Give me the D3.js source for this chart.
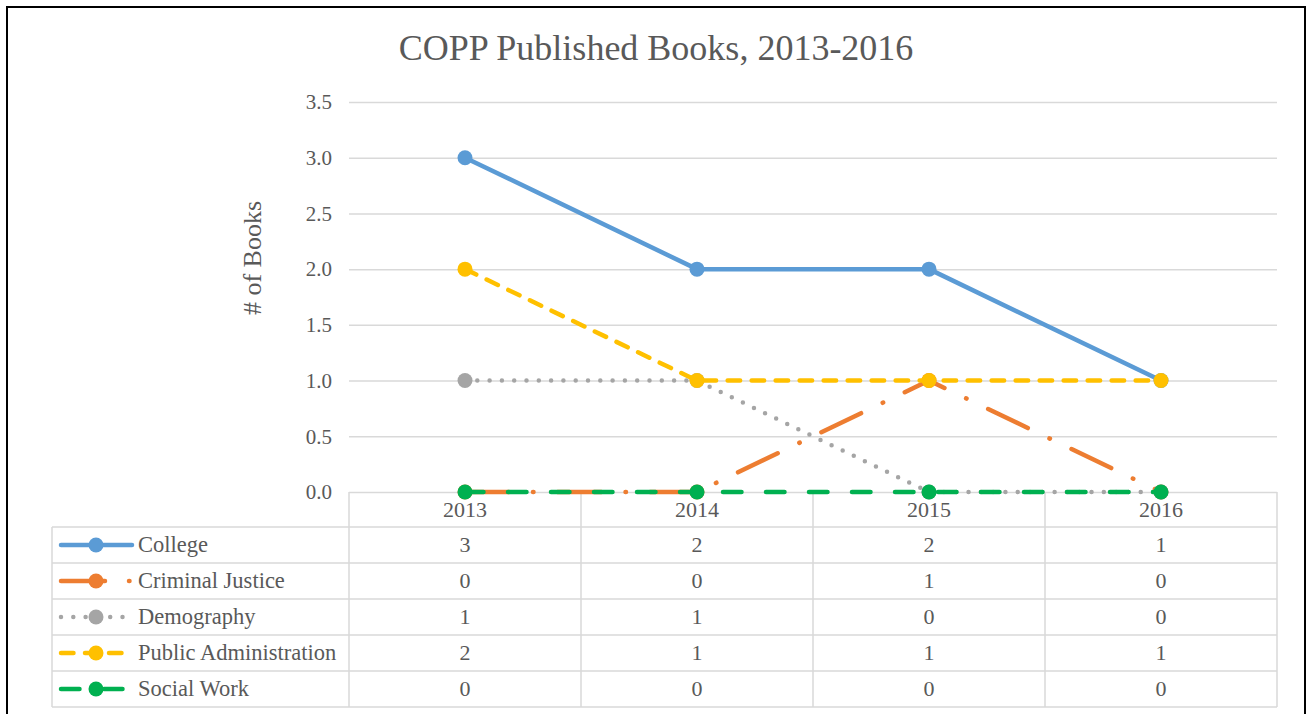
<!DOCTYPE html>
<html>
<head>
<meta charset="utf-8">
<script src="https://cdn.jsdelivr.net/npm/d3@7"></script>
<style>
  body { margin: 0; background: #fff; }
  svg text { font-family: "Liberation Serif", "DejaVu Serif", serif; fill: #595959; }
</style>
</head>
<body>
<svg id="chart" width="1307" height="714"></svg>
<script>
const years = ["2013", "2014", "2015", "2016"];
const seriesNames = ["College", "Criminal Justice", "Demography", "Public Administration", "Social Work"];
const college = [3, 2, 2, 1];
const criminalJustice = [0, 0, 1, 0];
const demography = [1, 1, 0, 0];
const publicAdmin = [2, 1, 1, 1];
const socialWork = [0, 0, 0, 0];
const yTicks = [0, 0.5, 1, 1.5, 2, 2.5, 3, 3.5];

const seriesValues = [college, criminalJustice, demography, publicAdmin, socialWork];
const colors = ["#5B9BD5", "#ED7D31", "#A5A5A5", "#FFC000", "#00B050"];
const dashes = ["none", "44 24 0.5 24", "0 12.3", "12.5 11.5", "18.5 24.5"];

const series = seriesNames.map((name, i) => ({ name, values: seriesValues[i], color: colors[i], dash: dashes[i] }));

const svg = d3.select("#chart");
const plotLeft = 349, plotRight = 1277, plotTop = 102, plotBottom = 492;
const rowH = 36, tableTop = 527, keyLeft = 52;
const serif = "'Liberation Serif', 'DejaVu Serif', serif";

// outer frame
svg.append("rect")
  .attr("x", 7).attr("y", 7).attr("width", 1298).attr("height", 720)
  .attr("fill", "none").attr("stroke", "#000").attr("stroke-width", 2);

const x = d3.scaleBand().domain(years).range([plotLeft, plotRight]);
const y = d3.scaleLinear().domain([0, 3.5]).range([plotBottom, plotTop]);

svg.append("text")
  .attr("x", 656).attr("y", 60)
  .attr("text-anchor", "middle")
  .style("font-family", serif)
  .style("font-size", "36px")
  .text("COPP Published Books, 2013-2016");

const yAxis = svg.append("g")
  .attr("transform", `translate(${plotLeft},0)`)
  .call(d3.axisLeft(y).tickValues(yTicks).tickFormat(d3.format(".1f")).tickSize(-(plotRight - plotLeft)).tickPadding(17));
yAxis.select(".domain").remove();
yAxis.attr("font-family", null);
yAxis.selectAll("line").attr("stroke", "#D9D9D9").attr("stroke-width", 1.5);
yAxis.selectAll("text").style("font-family", serif).style("font-size", "21px").attr("fill", "#595959");

svg.append("text")
  .attr("transform", "translate(261,258) rotate(-90)")
  .attr("text-anchor", "middle")
  .style("font-family", serif)
  .style("font-size", "26px")
  .text("# of Books");

// data table grid
const grid = svg.append("g").attr("stroke", "#D9D9D9").attr("stroke-width", 1.5);
const tableBottom = tableTop + rowH * series.length;
d3.range(series.length + 1).forEach((i) => {
  grid.append("line")
    .attr("x1", keyLeft).attr("x2", plotRight)
    .attr("y1", tableTop + i * rowH).attr("y2", tableTop + i * rowH);
});
grid.append("line").attr("x1", keyLeft).attr("x2", keyLeft).attr("y1", tableTop).attr("y2", tableBottom);
years.forEach((yr) => {
  grid.append("line")
    .attr("x1", x(yr)).attr("x2", x(yr))
    .attr("y1", plotBottom).attr("y2", tableBottom);
});
grid.append("line").attr("x1", plotRight).attr("x2", plotRight).attr("y1", plotBottom).attr("y2", tableBottom);

svg.append("g").selectAll("text")
  .data(years)
  .join("text")
  .attr("x", (d) => x(d) + x.bandwidth() / 2)
  .attr("y", 517)
  .attr("text-anchor", "middle")
  .style("font-family", serif)
  .style("font-size", "22px")
  .text((d) => d);

const rows = svg.append("g").selectAll("g")
  .data(series)
  .join("g")
  .attr("transform", (d, i) => `translate(0,${tableTop + i * rowH + rowH / 2})`);

rows.selectAll("text.val")
  .data((d) => d.values)
  .join("text")
  .attr("class", "val")
  .attr("x", (d, i) => x(years[i]) + x.bandwidth() / 2)
  .attr("y", 7)
  .attr("text-anchor", "middle")
  .style("font-family", serif)
  .style("font-size", "22px")
  .text((d) => d);

rows.append("line")
  .attr("x1", 61).attr("x2", 132)
  .attr("stroke", (d) => d.color)
  .attr("stroke-width", 4.5)
  .attr("stroke-linecap", "round")
  .attr("stroke-dasharray", (d) => d.dash);
rows.append("circle")
  .attr("cx", 96).attr("r", 7.5)
  .attr("fill", (d) => d.color);
rows.append("text")
  .attr("x", 138).attr("y", 7)
  .style("font-family", serif)
  .style("font-size", "22.5px")
  .text((d) => d.name);

// series lines + markers
const line = d3.line()
  .x((d, i) => x(years[i]) + x.bandwidth() / 2)
  .y((d) => y(d));

series.forEach((s) => {
  const g = svg.append("g");
  g.append("path")
    .attr("d", line(s.values))
    .attr("fill", "none")
    .attr("stroke", s.color)
    .attr("stroke-width", 4.5)
    .attr("stroke-linecap", "round")
    .attr("stroke-linejoin", "round")
    .attr("stroke-dasharray", s.dash);
  g.selectAll("circle")
    .data(s.values)
    .join("circle")
    .attr("cx", (d, i) => x(years[i]) + x.bandwidth() / 2)
    .attr("cy", (d) => y(d))
    .attr("r", 7.5)
    .attr("fill", s.color);
});
</script>
</body>
</html>
